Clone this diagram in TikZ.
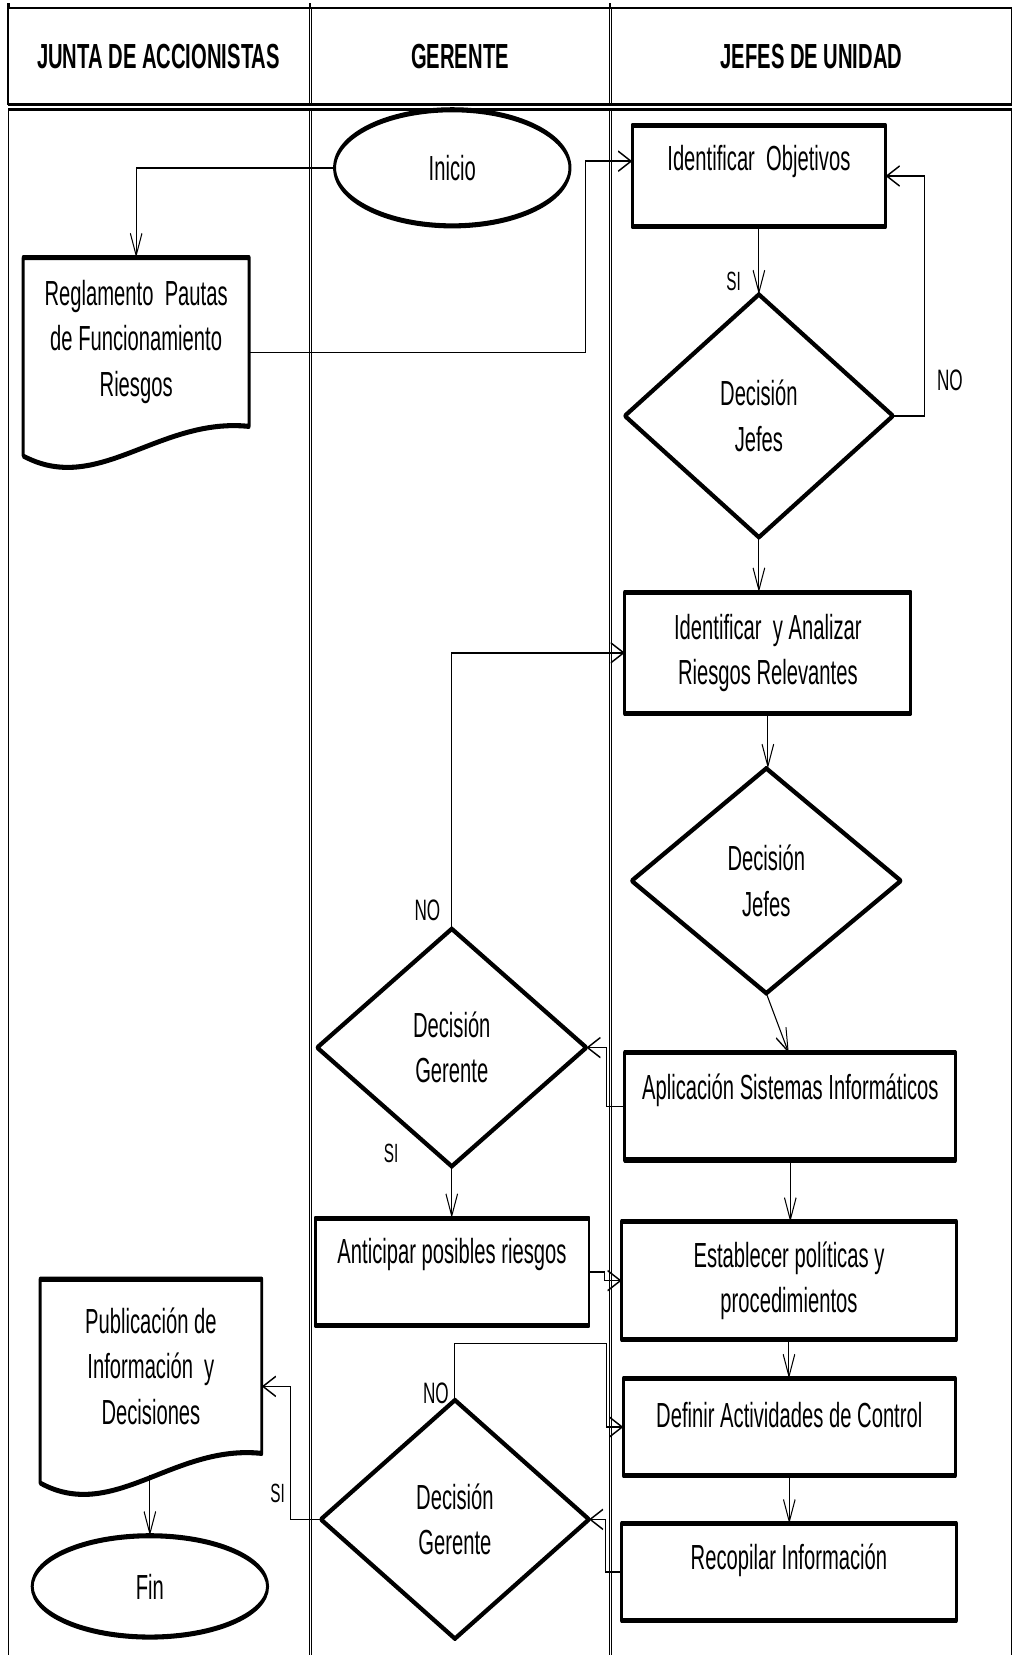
\documentclass[tikz,border=0pt]{standalone}
\usepackage{fontspec}
\setmainfont{Liberation Sans}
\usetikzlibrary{shapes.geometric,arrows.meta,calc}

\newcommand\txtfont{\fontsize{33}{43}\selectfont}
\newcommand\headfont{\fontsize{33}{40}\selectfont\bfseries}

% document symbol with a wavy lower edge, drawn around an invisible node
\newcommand\docpath[1]{%
  \draw[shapeline] (#1.north west) -- (#1.north east) -- (#1.south east)
    .. controls ($(#1.south west)!0.6!(#1.south east)+(0,-9)$)
       and ($(#1.south west)!0.33!(#1.south east)+(0,66)$)
    .. ($(#1.south west)+(0,28)$) -- cycle;}

\begin{document}
\begin{tikzpicture}[x=1pt,y=-1pt]
\useasboundingbox[fill=white] (0,0) rectangle (960,1568);

% the whole chart is drawn wide and then squeezed horizontally
\begin{scope}[transform canvas={xscale=0.58}, x=1.72414pt,
  sz/.style 2 args={minimum width=#1pt/0.58, minimum height=#2pt},
  lane/.style={line width=1.7pt},
  laneh/.style={line width=2.5pt},
  headcell/.style={draw, lane, rectangle, inner sep=0pt, outer sep=0pt, font=\headfont},
  shapeline/.style={line width=4.8pt, line join=round},
  box/.style={draw, shapeline, rectangle, inner sep=0pt, outer sep=0pt, align=center, font=\txtfont},
  dia/.style={draw, shapeline, diamond, inner sep=0pt, outer sep=0pt, align=center, font=\txtfont},
  ellip/.style={draw, shapeline, ellipse, inner sep=0pt, outer sep=0pt, font=\txtfont},
  docnode/.style={rectangle, inner sep=0pt, outer sep=0pt, align=center, font=\txtfont},
  boxtext/.style={font=\txtfont, inner sep=0pt},
  nolbl/.style={inner sep=0pt, font=\fontsize{28}{30}\selectfont},
  silbl/.style={inner sep=0pt, font=\fontsize{25}{28}\selectfont},
  conn/.style={line width=1.6pt, -{Straight Barb[length=21pt,width=19pt]}}
]

% ---- swimlanes ----
\node[headcell, sz={285.2}{91.5}] (h1) at (150.2,53.25) {JUNTA DE ACCIONISTAS};
\node[headcell, sz={282.3}{91.5}] (h2) at (435.85,53.25) {GERENTE};
\node[headcell, sz={379.6}{91.5}] (h3) at (768.8,53.25) {JEFES DE UNIDAD};
\draw[lane] (7.6,1568) -- (7.6,103.8);
\draw[lane] (292.8,103.8) -- (292.8,1568);
\draw[lane] (294.7,1568) -- (294.7,103.8);
\draw[lane] (577,103.8) -- (577,1568);
\draw[lane] (579,1568) -- (579,103.8);
\draw[lane] (958.6,103.8) -- (958.6,1568);
\draw[laneh] (h1.north west) -- (h3.north east);
\draw[laneh] (h1.south west) -- (h3.south east);
\draw[laneh] (7.6,103.8) -- (958.6,103.8);
\foreach \sx in {8,293.7,578} \draw[line width=4pt] (\sx,3) -- (\sx,7.5);

% ---- shapes ----
\node[ellip, sz={223}{110}] (ini) at (428.5,159) {Inicio};
\node[docnode, sz={214}{160}] (reg) at (129,324) {Reglamento\ \ Pautas\\de Funcionamiento\\Riesgos};
\docpath{reg}
\node[box, sz={240}{96.5}, label={[boxtext, yshift=14pt, name=objt]center:Identificar\ \ Objetivos}] (obj) at (719,166.75) {};
\node[dia, sz={254}{230}] (dj1) at (719,394) {Decisión\\Jefes};
\node[box, sz={271}{115}] (ana) at (727.5,618.5) {Identificar\ \ y Analizar\\Riesgos Relevantes};
\node[dia, sz={255}{213}] (dj2) at (726,834.5) {Decisión\\Jefes};
\node[dia, sz={255}{225}] (dg1) at (428,992.5) {Decisión\\Gerente};
\node[box, sz={313.5}{101.4}, label={[boxtext, yshift=15pt, name=aplt]center:Aplicación Sistemas Informáticos}] (apl) at (748.75,1048.3) {};
\node[box, sz={259.5}{101.6}, label={[boxtext, yshift=16pt, name=antt]center:Anticipar posibles riesgos}] (ant) at (428.25,1204.8) {};
\node[box, sz={317}{111.3}] (est) at (747.5,1213.3) {Establecer políticas y\\procedimientos};
\node[box, sz={314.4}{92}, label={[boxtext, yshift=11pt, name=deft]center:Definir Actividades de Control}] (def) at (747.8,1352) {};
\node[box, sz={317}{91.4}, label={[boxtext, yshift=11pt, name=rect]center:Recopilar Información}] (rec) at (747.5,1489.3) {};
\node[dia, sz={254}{226}] (dg2) at (431,1439.5) {Decisión\\Gerente};
\node[docnode, sz={210}{165}] (pub) at (143,1294.5) {Publicación de\\Información\ \ y\\Decisiones};
\docpath{pub}
\node[ellip, sz={223}{96}] (fin) at (142,1503) {Fin};

% ---- branch labels ----
\node[silbl] (si1) at (695,267) {SI};
\node[nolbl] (no1) at (900,360) {NO};
\node[nolbl] (no2) at (405,862) {NO};
\node[silbl] (si2) at (370.6,1093) {SI};
\node[nolbl] (no3) at (413,1320) {NO};
\node[silbl] (si3) at (263,1415) {SI};

% ---- connectors ----
\draw[conn] (ini.west) -| (reg.north);
\draw[conn] ($(reg.east)+(0,10)$) -| ($(obj.west)+(-44,-14)$) -- ($(obj.west)+(0,-14)$);
\draw[conn] (obj.south) -- (dj1.north);
\draw[conn] (dj1.east) -| ($(obj.east)+(36.5,0)$) -- (obj.east);
\draw[conn] (dj1.south) -- (dj1.south |- ana.north);
\draw[conn] (ana.south) -- (ana.south |- dj2.north);
\draw[conn] (dj2.south) -- ($(apl.north)+(-1.5,0)$);
\draw[conn] (apl.west) -| ($(dg1.east)+(19,0)$) -- (dg1.east);
\draw[conn] (dg1.north) |- (ana.west);
\draw[conn] (dg1.south) -- (dg1.south |- ant.north);
\draw[conn] (ant.east) -| ($(est.west)+(-16,0)$) -- (est.west);
\draw[conn] (apl.south) -- (apl.south |- est.north);
\draw[conn] (est.south) -- (est.south |- def.north);
\draw[conn] (def.south) -- (def.south |- rec.north);
\draw[conn] (rec.west) -| ($(dg2.east)+(16,0)$) -- (dg2.east);
\draw[conn] (dg2.north) |- ($(def.west)+(-15.6,-79)$) |- (def.west);
\draw[conn] (dg2.west) -| ($(pub.east)+(27.5,19)$) -- ($(pub.east)+(0,19)$);
\draw[conn] ($(pub.south)+(-1,20)$) -- (fin.north);
\end{scope}
\end{tikzpicture}
\end{document}
